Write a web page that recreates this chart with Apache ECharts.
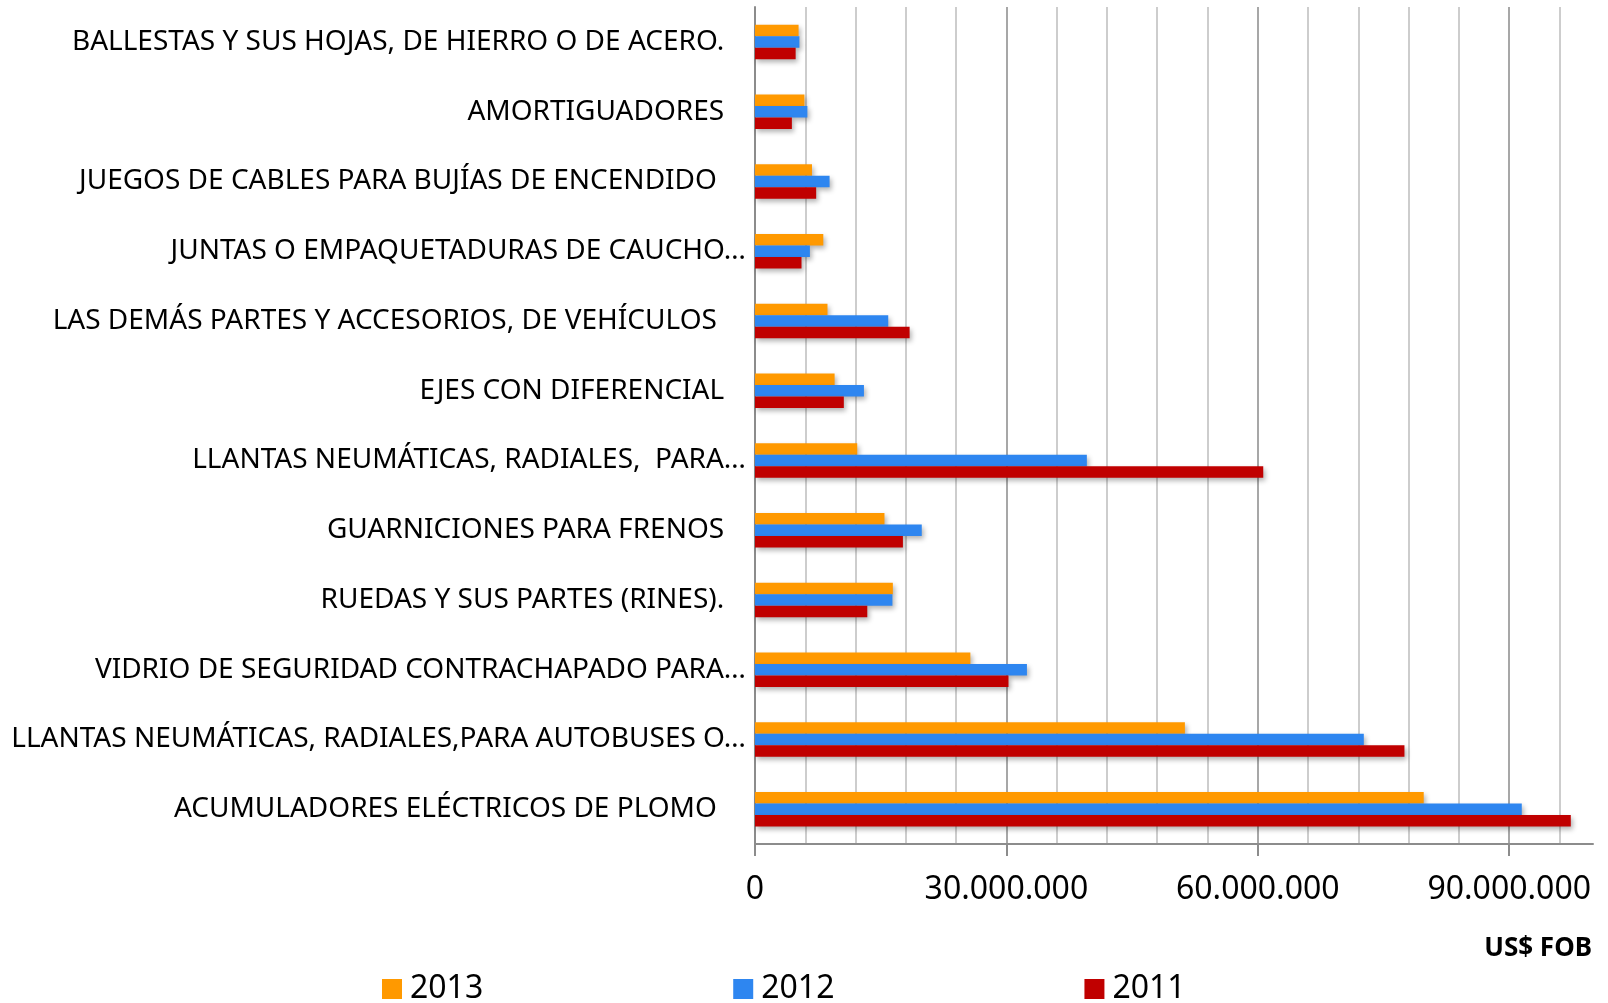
<!DOCTYPE html>
<html>
<head>
<meta charset="utf-8">
<script src="https://cdn.jsdelivr.net/npm/echarts@6/dist/echarts.min.js"></script>
<style>
  html, body { margin: 0; padding: 0; background: #fff; }
  #chart { width: 1608px; height: 1003px; }
</style>
</head>
<body>
<div id="chart"></div>
<script>
// categorias de arriba hacia abajo (tal como aparecen en el grafico)
var categorias = [
  'BALLESTAS Y SUS HOJAS, DE HIERRO O DE ACERO.   ',
  'AMORTIGUADORES   ',
  'JUEGOS DE CABLES PARA BUJÍAS DE ENCENDIDO    ',
  'JUNTAS O EMPAQUETADURAS DE CAUCHO…',
  'LAS DEMÁS PARTES Y ACCESORIOS, DE VEHÍCULOS    ',
  'EJES CON DIFERENCIAL   ',
  'LLANTAS NEUMÁTICAS, RADIALES,  PARA…',
  'GUARNICIONES PARA FRENOS   ',
  'RUEDAS Y SUS PARTES (RINES).   ',
  'VIDRIO DE SEGURIDAD CONTRACHAPADO PARA…',
  'LLANTAS NEUMÁTICAS, RADIALES,PARA AUTOBUSES O…',
  'ACUMULADORES ELÉCTRICOS DE PLOMO    '
]

// valores en US$ FOB
var v2013 = [5200000, 5900000, 6800000, 8150000, 8650000, 9500000, 12200000, 15450000, 16450000, 25700000, 51300000, 79800000]
var v2012 = [5300000, 6250000, 8900000, 6550000, 15900000, 13000000, 39600000, 19900000, 16400000, 32450000, 72650000, 91500000]
var v2011 = [4850000, 4400000, 7300000, 5550000, 18450000, 10600000, 60650000, 17650000, 13400000, 30250000, 77500000, 97350000]

var anios = ['2013', '2012', '2011']
var colores = ['#FF9900', '#2E86F0', '#C00000']
var ticksPrincipales = [0, 30000000, 60000000, 90000000]

var chart = echarts.init(document.getElementById('chart'))

function formatoMiles(v) {
  return String(v).replace(/\B(?=(\d{3})+(?!\d))/g, '.')
}

function serie(nombre, datos, color) {
  return {
    name: nombre,
    type: 'bar',
    data: datos,
    xAxisIndex: 0,
    barWidth: 11.5,
    barGap: '0%',
    itemStyle: {
      color: color,
      shadowColor: 'rgba(0,0,0,0.3)',
      shadowBlur: 5,
      shadowOffsetX: 2,
      shadowOffsetY: 3
    }
  }
}

chart.setOption({
  animation: false,
  color: colores,
  textStyle: { fontFamily: 'Noto Sans' },
  grid: {
    left: 755,
    right: 15,
    top: 7,
    bottom: 159,
    containLabel: false
  },
  title: {
    text: 'US$ FOB',
    right: 11,
    top: 931,
    textStyle: { fontSize: 26, fontWeight: 'bold', color: '#000', fontFamily: 'Noto Sans' }
  },
  legend: {
    data: anios,
    left: 377,
    top: 968,
    itemWidth: 20,
    itemHeight: 20,
    itemGap: 250,
    icon: 'rect',
    textStyle: { fontSize: 32, color: '#000', padding: [0, 0, 0, 3] }
  },
  xAxis: [
    {
      // rejilla fina cada 6.000.000
      type: 'value',
      position: 'bottom',
      min: 0,
      max: 100000000,
      interval: 6000000,
      axisLine: { show: true, lineStyle: { color: '#8c8c8c', width: 2 } },
      axisTick: { show: false },
      axisLabel: { show: false },
      splitLine: {
        show: true,
        showMaxLine: false,
        lineStyle: {
          color: ['#8a8a8a', '#bcbcbc', '#bcbcbc', '#bcbcbc', '#bcbcbc'],
          width: 1.5
        }
      }
    },
    {
      // marcas y etiquetas principales
      type: 'value',
      position: 'bottom',
      min: 0,
      max: 100000000,
      axisLine: { show: false },
      axisTick: {
        show: true,
        customValues: ticksPrincipales,
        length: 12,
        lineStyle: { color: '#8c8c8c', width: 2 }
      },
      axisLabel: {
        customValues: ticksPrincipales,
        fontSize: 32,
        color: '#000',
        margin: 30,
        formatter: formatoMiles
      },
      splitLine: { show: false }
    }
  ],
  yAxis: {
    type: 'category',
    inverse: true,
    data: categorias,
    axisLine: { show: true, lineStyle: { color: '#8c8c8c', width: 2 } },
    axisTick: { show: false },
    axisLabel: {
      fontSize: 28,
      color: '#000',
      margin: 9
    }
  },
  series: [
    serie(anios[0], v2013, colores[0]),
    serie(anios[1], v2012, colores[1]),
    serie(anios[2], v2011, colores[2])
  ]
})
</script>
</body>
</html>
